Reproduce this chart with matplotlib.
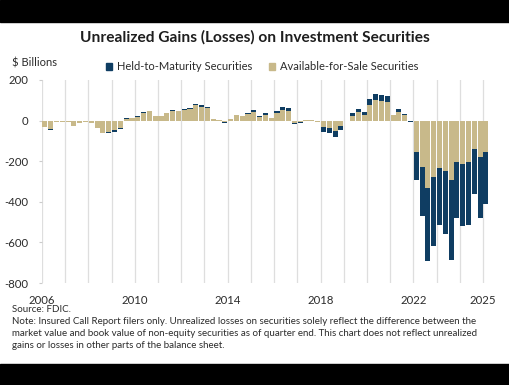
import matplotlib
matplotlib.use("Agg")
import matplotlib.pyplot as plt
from matplotlib.patches import Rectangle, Patch
import numpy as np

plt.rcParams['font.family'] = ['Lato', 'DejaVu Sans']

# quarterly, 2006Q1 .. 2025Q1, $ billions
afs = [-32, -40, -7, -7,
       -7, -28, -12, -6,
       -13, -38, -60, -58,
       -48, -37, 10, 11,
       20, 38, 45, 21,
       22, 36, 46, 45,
       54, 56, 75, 68,
       62, 6, 4, -8,
       8, 28, 21, 32,
       40, 20, 28, 11,
       36, 50, 45, -10,
       -7, 2, 4, -5,
       -32, -37, -50, -28,
       -2, 25, 40, 30,
       75, 102, 97, 92,
       27, 43, 28, -3,
       -155, -230, -330, -280,
       -235, -250, -295, -205,
       -215, -205, -140, -180,
       -155]
htm = [0, -5, 0, 0,
       0, 0, 0, 0,
       0, 0, -2, -3,
       -8, -6, 1, 1,
       1, 2, 4, 1,
       1, 2, 4, 3,
       4, 5, 8, 7,
       5, 1, 1, -4,
       1, 2, 2, 5,
       11, 2, 7, 1,
       12, 17, 16, -6,
       -3, 0, 0, -2,
       -22, -26, -33, -17,
       -1, 13, 15, 13,
       32, 30, 30, 30,
       3, 12, 4, -5,
       -140, -240, -360, -340,
       -280, -310, -390, -273,
       -302, -308, -224, -302,
       -258]

year_ticks = [2006, 2010, 2014, 2018, 2022, 2025]
y_ticks = [200, 0, -200, -400, -600, -800]

HTM_COLOR = '#0f3d62'
AFS_COLOR = '#c8b98a'
TEXT = '#2b2b2b'

afs = np.array(afs, dtype=float)
htm = np.array(htm, dtype=float)
x = 2006 + np.arange(len(afs)) * 0.25

fig = plt.figure(figsize=(5.1, 3.85), dpi=100)
fig.patch.set_facecolor('white')
fig.patches.append(Rectangle((0, 1 - 22 / 385), 1, 22 / 385, transform=fig.transFigure,
                             color='black', zorder=-1))
fig.patches.append(Rectangle((0, 0), 1, 21 / 385, transform=fig.transFigure,
                             color='black', zorder=-1))

ax = fig.add_axes([42 / 510, 1 - 283 / 385, (490 - 42) / 510, (283 - 80) / 385])

ax.bar(x + 0.015, afs, width=0.22, align='edge', color=AFS_COLOR, zorder=2)
ax.bar(x + 0.015, htm, width=0.22, align='edge', bottom=afs, color=HTM_COLOR, zorder=2)

ax.set_xlim(2006, 2025.3)
ax.set_ylim(-800, 200)
for yr in range(2006, 2026):
    ax.axvline(yr, color='#dedede', lw=0.9, zorder=0)

ax.set_xticks(year_ticks)
ax.set_xticklabels([str(t) for t in year_ticks])
ax.set_yticks(y_ticks)
ax.set_yticklabels([str(t) for t in y_ticks])
ax.tick_params(axis='x', length=0, pad=9, labelsize=8.2, colors=TEXT)
ax.tick_params(axis='y', length=2, width=0.8, color='#cccccc', pad=8, labelsize=8.2, labelcolor=TEXT)
for s in ax.spines.values():
    s.set_visible(False)

fig.text(0.5, 1 - 37 / 385, 'Unrealized Gains (Losses) on Investment Securities',
         ha='center', va='center', fontsize=11.2, fontweight='bold', color='#1e1e1e')
fig.text(12 / 510, 1 - 63 / 385, '$ Billions', ha='left', va='center', fontsize=8, color=TEXT)

handles = [Patch(color=HTM_COLOR), Patch(color=AFS_COLOR)]
fig.legend(handles, ['Held-to-Maturity Securities', 'Available-for-Sale Securities'],
           loc='center', bbox_to_anchor=(262 / 510, 1 - 67 / 385), ncol=2, frameon=False,
           fontsize=8, handlelength=0.6, handleheight=0.6, handletextpad=0.4,
           columnspacing=1.5, labelcolor=TEXT)

fig.text(12 / 510, 1 - 310 / 385, 'Source: FDIC.', ha='left', va='center', fontsize=7, color=TEXT)
note = ('Note: Insured Call Report filers only. Unrealized losses on securities solely reflect the difference between the\n'
        'market value and book value of non-equity securities as of quarter end. This chart does not reflect unrealized\n'
        'gains or losses in other parts of the balance sheet.')
fig.text(12 / 510, 1 - 317 / 385, note, ha='left', va='top', fontsize=7, color=TEXT, linespacing=1.45)

fig.savefig('out.png', dpi=100)
